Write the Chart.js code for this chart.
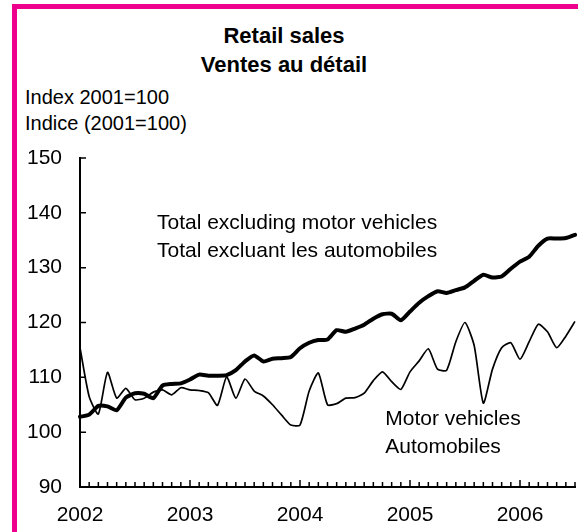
<!DOCTYPE html>
<html lang="en">
<head>
  <meta charset="UTF-8">
  <title>Retail sales</title>
  <script src="https://cdn.jsdelivr.net/npm/chart.js"></script>
  <style>
    body { margin: 0; background: #fff; font-family: "Liberation Sans", Arial, sans-serif; color: #000; }
    .frame { position: absolute; left: 12px; top: 4px; width: 566px; height: 528px;
             border-top: 5px solid #ec008c; border-left: 5px solid #ec008c; }
    .title { position: absolute; left: 0; width: 568px; top: 21px; text-align: center;
             font-weight: bold; font-size: 22px; line-height: 29px; }
    .unit { position: absolute; left: 25px; top: 84px; font-size: 20px; line-height: 26px; }
    canvas { position: absolute; left: 0; top: 0; }
  </style>
</head>
<body>
  <div class="frame"></div>
  <div class="title">Retail sales<br>Ventes au détail</div>
  <div class="unit">Index 2001=100<br>Indice (2001=100)</div>
  <canvas id="chart" width="578" height="532"></canvas>

  <script>
    const years = ["2002", "2003", "2004", "2005", "2006"];
    const monthNames = ["Jan", "Feb", "Mar", "Apr", "May", "Jun", "Jul", "Aug", "Sep", "Oct", "Nov", "Dec"];
    // Jan 2002 .. Jul 2006
    const months = [];
    years.forEach(y => monthNames.forEach(m => months.push(m + " " + y)));
    months.length = 55;

    const yTicks = [90, 100, 110, 120, 130, 140, 150];

    const totalExclMV = [
      102.8, 103.2, 104.8, 104.7, 104.0, 106.3, 107.1, 107.0, 106.2, 108.5, 108.8, 108.9,
      109.6, 110.5, 110.3, 110.3, 110.4, 111.3, 112.9, 114.0, 112.9, 113.4, 113.5, 113.7,
      115.3, 116.3, 116.8, 116.9, 118.6, 118.3, 118.9, 119.6, 120.7, 121.5, 121.6, 120.4,
      122.0, 123.6, 124.8, 125.7, 125.4, 125.9, 126.4, 127.6, 128.7, 128.2, 128.4, 129.8,
      131.1, 132.0, 134.0, 135.3, 135.3, 135.4, 136.0
    ];

    const motorVehicles = [
      115.4, 106.5, 103.3, 110.9, 106.2, 108.0, 105.9, 106.2, 107.3, 107.7, 106.8, 108.1,
      107.7, 107.6, 107.2, 104.9, 110.1, 106.2, 109.7, 107.5, 106.6, 105.0, 103.1, 101.3,
      101.3, 107.5, 110.8, 105.0, 105.2, 106.2, 106.3, 107.1, 109.4, 111.0, 109.2, 107.8,
      111.0, 113.0, 115.2, 111.5, 111.3, 116.5, 120.0, 115.8, 105.3, 111.5, 115.4, 116.3,
      113.3, 116.5, 119.7, 118.3, 115.4, 117.5, 120.2
    ];

    const notes = [
      { lines: ["Total excluding motor vehicles", "Total excluant les automobiles"], x: 8.4, y: 137.1 },
      { lines: ["Motor vehicles", "Automobiles"], x: 33.3, y: 101.3 }
    ];

    const FONT = '"Liberation Sans", Arial, sans-serif';

    // ticks point into the plot, years longer than months
    const innerTicks = {
      id: "innerTicks",
      afterDraw(chart) {
        const { ctx, chartArea, scales: { x, y } } = chart;
        ctx.save();
        ctx.strokeStyle = "#000";
        ctx.lineWidth = 1.5;
        ctx.beginPath();
        x.ticks.forEach((t, i) => {
          const px = x.getPixelForTick(i);
          ctx.moveTo(px, chartArea.bottom);
          ctx.lineTo(px, chartArea.bottom - (i % 12 === 0 ? 7 : 5));
        });
        y.ticks.forEach((t, i) => {
          const py = y.getPixelForTick(i);
          ctx.moveTo(chartArea.left, py);
          ctx.lineTo(chartArea.left + 6, py);
        });
        ctx.stroke();
        ctx.restore();
      }
    };

    const seriesNotes = {
      id: "seriesNotes",
      afterDraw(chart) {
        const { ctx, scales: { x, y } } = chart;
        ctx.save();
        ctx.fillStyle = "#000";
        ctx.font = "21px " + FONT;
        ctx.textBaseline = "alphabetic";
        notes.forEach(n => {
          const px = x.getPixelForValue(n.x);
          const py = y.getPixelForValue(n.y);
          n.lines.forEach((l, i) => ctx.fillText(l, px, py + i * 28));
        });
        ctx.restore();
      }
    };

    new Chart(document.getElementById("chart"), {
      type: "line",
      data: {
        labels: months,
        datasets: [
          {
            label: "Total excluding motor vehicles",
            data: totalExclMV,
            borderColor: "#000",
            borderWidth: 4,
            pointRadius: 0,
            tension: 0.2,
            borderJoinStyle: "round",
            borderCapStyle: "round"
          },
          {
            label: "Motor vehicles",
            data: motorVehicles,
            borderColor: "#000",
            borderWidth: 1.7,
            pointRadius: 0,
            tension: 0.2,
            borderJoinStyle: "round"
          }
        ]
      },
      options: {
        responsive: false,
        animation: false,
        layout: { padding: { top: 158, right: 3, left: 0, bottom: 0 } },
        plugins: { legend: { display: false }, tooltip: { enabled: false } },
        scales: {
          x: {
            grid: { display: false, drawTicks: false },
            border: { display: true, color: "#000", width: 2 },
            afterFit(scale) {
              scale.height = 45;
              scale.paddingLeft = 0;
              scale.paddingRight = 0;
            },
            ticks: {
              autoSkip: false,
              maxRotation: 0,
              padding: 16,
              color: "#000",
              font: { family: FONT, size: 21 },
              callback: (v, i) => (i % 12 === 0 ? years[i / 12] : "")
            }
          },
          y: {
            min: 90,
            max: 150,
            afterFit(scale) { scale.width = 80; },
            afterBuildTicks(scale) { scale.ticks = yTicks.map(v => ({ value: v })); },
            grid: { display: false, drawTicks: false },
            border: { display: true, color: "#000", width: 2 },
            ticks: {
              padding: 18,
              color: "#000",
              font: { family: FONT, size: 21 }
            }
          }
        }
      },
      plugins: [innerTicks, seriesNotes]
    });
  </script>
</body>
</html>
